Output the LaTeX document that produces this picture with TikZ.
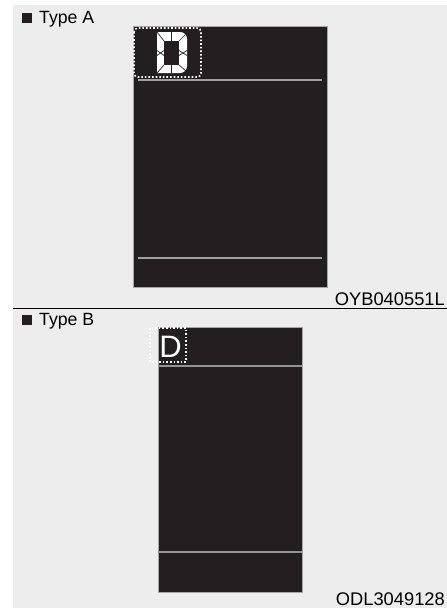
\documentclass[tikz,border=0pt]{standalone}
\usepackage{fontspec}
\setmainfont{Liberation Sans}
\definecolor{bgg}{RGB}{237,237,237}
\definecolor{scr}{RGB}{35,31,32}
\definecolor{lng}{RGB}{160,160,160}
\begin{document}
\begin{tikzpicture}[x=1pt,y=-1pt,
  screen/.style={fill=scr,draw=gray!70,line width=0.6pt},
  divline/.style={draw=lng,line width=1.5pt},
  dotbox/.style={draw=white,dotted,line width=1.6pt},
  hdr/.style={anchor=base west,inner sep=0pt,font=\fontsize{17.7}{20}\selectfont},
  bullet/.style={fill=scr},
  code/.style={anchor=base east,inner sep=0pt,font=\fontsize{18.3}{21}\selectfont},
  seg/.style={draw=scr,line width=0.7pt}]
\useasboundingbox (0,0) rectangle (447,608);
\fill[bgg] (13,5) rectangle (447,608);
\draw[black,line width=1pt] (13,308) -- (447,308);

% Type A
\fill[bullet] (22,12.5) rectangle (32,22.5);
\node[hdr] (ta) at (39,23) {Type A};
\filldraw[screen] (133,26) rectangle (327,287);
\draw[divline] (138,80) -- (322,80);
\draw[divline] (138,258) -- (322,258);
\draw[dotbox,rounded corners=4pt] (134,28) rectangle (201,77);
% segmented D
\fill[white] (157,32) -- (180,32) .. controls (184,32) and (187,35) .. (187,39) -- (187,66) .. controls (187,70) and (184,73) .. (180,73) -- (157,73) -- cycle;
\fill[scr] (164,41) rectangle (179,65);
\draw[seg] (157,32) -- (164,41) (157,73) -- (164,65) (186,34) -- (179,41) (186,71) -- (179,65);
\draw[seg] (171.5,32) -- (171.5,41) (171.5,65) -- (171.5,73);
\draw[seg] (157,50.5) -- (160.5,53) -- (157,55.5) (164,50.5) -- (160.5,53) -- (164,55.5);
\draw[seg] (179,50.5) -- (183,53) -- (179,55.5) (187,50.5) -- (183,53) -- (187,55.5);
\node[code] (ca) at (445,305) {OYB040551L};

% Type B
\fill[bullet] (22,314.5) rectangle (32,324.5);
\node[hdr] (tb) at (39,325) {Type B};
\filldraw[screen] (158,327) rectangle (302,592);
\draw[divline,line width=1.2pt,draw=gray!85] (158,366) -- (302,366);
\draw[divline,line width=1.2pt,draw=gray!85] (158,552) -- (302,552);
\node[text=white,inner sep=0pt,font=\fontsize{31}{34}\selectfont] (db) at (170.5,346.5) {D};
\draw[dotbox] (150,328) rectangle (186,362);
\node[code] (cb) at (445,605) {ODL3049128};
\end{tikzpicture}
\end{document}
